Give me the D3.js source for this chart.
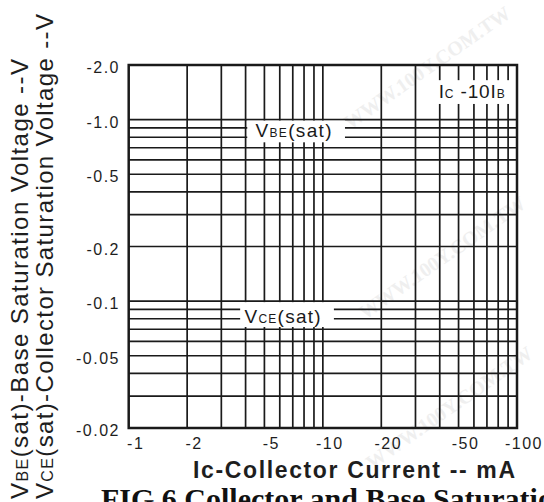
<!DOCTYPE html>
<html>
<head>
<meta charset="utf-8">
<script src="https://cdn.jsdelivr.net/npm/d3@7"></script>
<style>
  body { margin: 0; background: #fff; }
  svg { display: block; }
</style>
</head>
<body>
<svg id="chart" width="544" height="502"></svg>
<script>
// log-log grid values (magnitudes; labels carry the minus sign)
const xGrid = [2, 3, 4, 5, 6, 7, 8, 9, 10, 20, 30, 40, 50, 60, 70, 80, 90];
const yGrid = [0.03, 0.04, 0.05, 0.06, 0.07, 0.08, 0.09, 0.1, 0.2, 0.3, 0.4, 0.5, 0.6, 0.7, 0.8, 0.9, 1.0];
const xTicks = [1, 2, 5, 10, 20, 50, 100];
const xTickLabels = ["-1", "-2", "-5", "-10", "-20", "-50", "-100"];
const yTicks = [2, 1, 0.5, 0.2, 0.1, 0.05, 0.02];
const yTickLabels = ["-2.0", "-1.0", "-0.5", "-0.2", "-0.1", "-0.05", "-0.02"];

// labels sitting on the grid (data units)
const notes = [
  { main: "V", sub: "BE", rest: "(sat)", x: 4.5, y: 0.8, box: [4.08, 13, 1.0, 0.75], len: 76 },
  { main: "V", sub: "CE", rest: "(sat)", x: 3.95, y: 0.076, box: [3.75, 11.4, 0.1, 0.072], len: 76 },
];

const svg = d3.select("#chart");
const pl = 128.7, pr = 517, pt = 65, pb = 428;
const ink = "#1a1a1a";

const x = d3.scaleLog().domain([1, 100]).range([pl, pr]);
const y = d3.scaleLog().domain([0.02, 2]).range([pb, pt]);

// faint watermark
const wm = svg.append("g").attr("fill", "#efefef")
  .style("font", "bold 20px 'Liberation Serif', serif");
[[350, 130], [365, 320], [372, 470]].forEach(p => {
  wm.append("text").attr("transform", `translate(${p[0]},${p[1]}) rotate(-35)`)
    .text("WWW.100Y.COM.TW");
});

const g = svg.append("g");

g.append("g").selectAll("line").data(xGrid).join("line")
  .attr("x1", d => x(d)).attr("x2", d => x(d))
  .attr("y1", pt).attr("y2", pb)
  .attr("stroke", ink).attr("stroke-width", 1.7);

g.append("g").selectAll("line").data(yGrid).join("line")
  .attr("x1", pl).attr("x2", pr)
  .attr("y1", d => y(d)).attr("y2", d => y(d))
  .attr("stroke", ink).attr("stroke-width", 1.7);

// white boxes behind the curve labels
notes.forEach(n => {
  g.append("rect")
    .attr("x", x(n.box[0])).attr("width", x(n.box[1]) - x(n.box[0]))
    .attr("y", y(n.box[2]) + 1).attr("height", y(n.box[3]) - y(n.box[2]) - 1)
    .attr("fill", "#fff");
  const t = g.append("text").attr("x", x(n.x)).attr("y", y(n.y))
    .attr("fill", ink).attr("textLength", n.len).attr("lengthAdjust", "spacing")
    .style("font-family", "'Liberation Sans', Arial, sans-serif");
  t.append("tspan").style("font-size", "19px").text(n.main);
  t.append("tspan").style("font-size", "12px").text(n.sub);
  t.append("tspan").style("font-size", "19px").text(n.rest);
});

// Ic = 10 IB label
g.append("rect").attr("x", x(37.9)).attr("width", x(92.5) - x(37.9))
  .attr("y", y(1.65)).attr("height", y(1.22) - y(1.65)).attr("fill", "#fff");
const ic = g.append("text").attr("x", x(39.5)).attr("y", y(1.32))
  .attr("fill", ink).attr("textLength", 66).attr("lengthAdjust", "spacing")
  .style("font-family", "'Liberation Sans', Arial, sans-serif");
ic.append("tspan").style("font-size", "19px").text("I");
ic.append("tspan").style("font-size", "12px").text("C");
ic.append("tspan").style("font-size", "19px").text(" -10I");
ic.append("tspan").style("font-size", "12px").text("B");

// frame
g.append("rect").attr("x", pl).attr("y", pt)
  .attr("width", pr - pl).attr("height", pb - pt)
  .attr("fill", "none").attr("stroke", ink).attr("stroke-width", 2.5);

// tick labels
const lab = svg.append("g").attr("fill", "#1e1e1e")
  .style("font-family", "'Liberation Sans', Arial, sans-serif")
  .style("font-size", "16px").style("letter-spacing", "1.5px");

lab.selectAll(".yl").data(yTicks).join("text").attr("class", "yl")
  .attr("x", 120).attr("y", d => y(d) + 8)
  .attr("text-anchor", "end")
  .text((d, i) => yTickLabels[i]);

lab.selectAll(".xl").data(xTicks).join("text").attr("class", "xl")
  .attr("x", d => x(d) + 7).attr("y", 449)
  .attr("text-anchor", "middle")
  .text((d, i) => xTickLabels[i]);

// axis titles
const yt = svg.append("g").attr("fill", "#1e1e1e")
  .style("font-family", "'Liberation Sans', Arial, sans-serif");

function yTitle(xpos, len, sub, rest) {
  const t = yt.append("text")
    .attr("transform", `translate(${xpos},499) rotate(-90)`)
    .attr("textLength", len).attr("lengthAdjust", "spacing");
  t.append("tspan").style("font-size", "24px").text("V");
  t.append("tspan").style("font-size", "16px").text(sub);
  t.append("tspan").style("font-size", "24px").text(rest);
}
yTitle(28, 440, "BE", "(sat)-Base Saturation Voltage --V");
yTitle(53, 485, "CE", "(sat)-Collector Saturation Voltage --V");

svg.append("text").attr("x", 193).attr("y", 478)
  .attr("fill", "#1e1e1e").attr("textLength", 322).attr("lengthAdjust", "spacing")
  .style("font", "bold 23px 'Liberation Sans', Arial, sans-serif")
  .text("Ic-Collector Current -- mA");

svg.append("text").attr("x", 101).attr("y", 509)
  .attr("fill", "#111")
  .style("font", "bold 30px 'Liberation Serif', 'Times New Roman', serif")
  .text("FIG.6 Collector and Base Saturation Voltage");
</script>
</body>
</html>
